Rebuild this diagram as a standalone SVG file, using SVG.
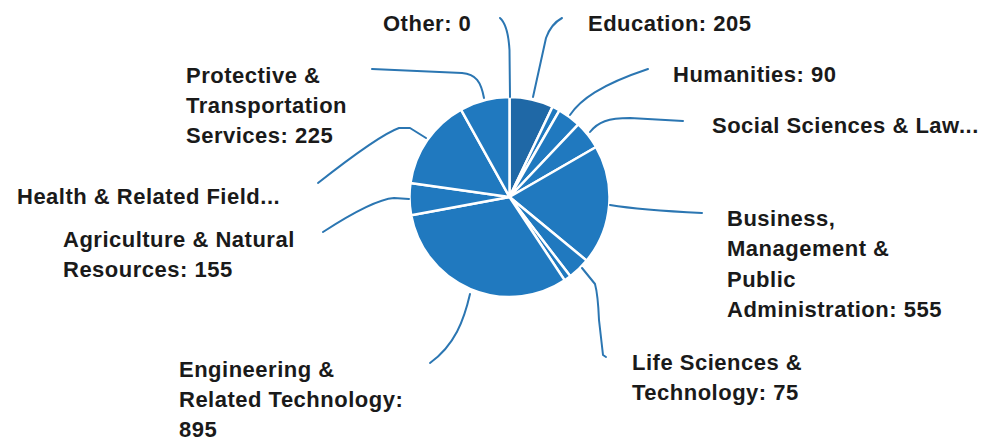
<svg xmlns="http://www.w3.org/2000/svg" width="984" height="443" viewBox="0 0 984 443">
<style>
.bg{fill:#ffffff}
.slice{fill:#2079bf;stroke:#ffffff;stroke-width:2.5;stroke-linejoin:round}
.dark{fill:#1f68a6}
.lbl{font-family:"Liberation Sans",Arial,sans-serif;font-weight:bold;font-size:22px;letter-spacing:0.5px;fill:#1a1a1a}
.lead{fill:none;stroke:#2b76b2;stroke-width:2;stroke-linecap:round;stroke-linejoin:round}
</style>
<rect class="bg" x="0" y="0" width="984" height="443"/>
<g id="slice-education">
<path class="slice dark" d="M509.5,197 L509.5,97 A100,100 0 0 1 552.55,106.74 Z"/>
<text class="lbl" x="588" y="31">Education: 205</text>
</g>
<g id="slice-sliver-1">
<path class="slice" d="M509.5,197 L552.55,106.74 A100,100 0 0 1 559.5,110.4 Z"/>
</g>
<g id="slice-humanities">
<path class="slice" d="M509.5,197 L559.5,110.4 A100,100 0 0 1 578.34,124.46 Z"/>
<text class="lbl" x="673" y="82">Humanities: 90</text>
</g>
<g id="slice-social-sciences">
<path class="slice" d="M509.5,197 L578.34,124.46 A100,100 0 0 1 596.1,147 Z"/>
<text class="lbl" x="712" y="133">Social Sciences &amp; Law...</text>
</g>
<g id="slice-business">
<path class="slice" d="M509.5,197 L596.1,147 A100,100 0 0 1 586.66,260.61 Z"/>
<text class="lbl" x="727"><tspan x="727" y="226">Business,</tspan><tspan x="727" y="256">Management &amp;</tspan><tspan x="727" y="287">Public</tspan><tspan x="727" y="317">Administration: 555</tspan></text>
</g>
<g id="slice-life-sciences">
<path class="slice" d="M509.5,197 L586.66,260.61 A100,100 0 0 1 570.38,276.34 Z"/>
<text class="lbl" x="632"><tspan x="632" y="370">Life Sciences &amp;</tspan><tspan x="632" y="400">Technology: 75</tspan></text>
</g>
<g id="slice-sliver-2">
<path class="slice" d="M509.5,197 L570.38,276.34 A100,100 0 0 1 564.69,280.39 Z"/>
</g>
<g id="slice-engineering">
<path class="slice" d="M509.5,197 L564.69,280.39 A100,100 0 0 1 411.17,215.22 Z"/>
<text class="lbl" x="179"><tspan x="179" y="377">Engineering &amp;</tspan><tspan x="179" y="407">Related Technology:</tspan><tspan x="179" y="437">895</tspan></text>
</g>
<g id="slice-agriculture">
<path class="slice" d="M509.5,197 L411.17,215.22 A100,100 0 0 1 410.47,183.08 Z"/>
<text class="lbl" x="63"><tspan x="63" y="247">Agriculture &amp; Natural</tspan><tspan x="63" y="277">Resources: 155</tspan></text>
</g>
<g id="slice-health">
<path class="slice" d="M509.5,197 L410.47,183.08 A100,100 0 0 1 461.02,109.54 Z"/>
<text class="lbl" x="17" y="204">Health &amp; Related Field...</text>
</g>
<g id="slice-protective">
<path class="slice" d="M509.5,197 L461.02,109.54 A100,100 0 0 1 509.5,97 Z"/>
<text class="lbl" x="186"><tspan x="186" y="83">Protective &amp;</tspan><tspan x="186" y="113">Transportation</tspan><tspan x="186" y="143">Services: 225</tspan></text>
</g>
<g id="slice-other">
<text class="lbl" x="383" y="31">Other: 0</text>
</g>
<g id="connectors">
<path class="lead" d="M510,97 L509.5,50 Q508,25 500,18"/>
<path class="lead" d="M533,97 L546,38 Q551,24 562,18"/>
<path class="lead" d="M484,98 C481,82 476,74 462,73 L372,69"/>
<path class="lead" d="M570,115 C580,100 600,85 648,69"/>
<path class="lead" d="M590,132 C598,122 608,118 630,118 L683,121"/>
<path class="lead" d="M610,205 Q640,210 702,213"/>
<path class="lead" d="M582,268 L595,284 Q598,295 599,320 L603,355 L606,357"/>
<path class="lead" d="M470,294 C464,320 455,345 430,363"/>
<path class="lead" d="M409,199 L394,198 C380,199 360,208 323,232"/>
<path class="lead" d="M426,138 L410,128 L399,128 C385,133 360,150 318,183"/>
</g>
</svg>
